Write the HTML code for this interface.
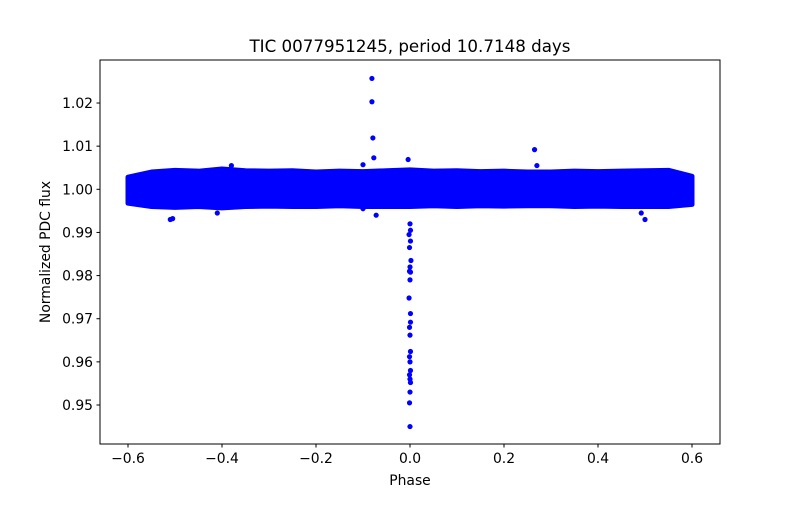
<!DOCTYPE html>
<html><head><meta charset="utf-8"><style>
body{margin:0;background:#fff}
svg text{font-family:"DejaVu Sans","Liberation Sans",sans-serif;fill:#000}
</style></head><body>
<svg id="chart" width="800" height="500" xmlns="http://www.w3.org/2000/svg">
<rect width="800" height="500" fill="#fff"/>
<text x="410" y="52" font-size="16.7" text-anchor="middle">TIC 0077951245, period 10.7148 days</text>
<g id="band"></g>
<g id="pts"></g>
<g id="axes"></g>
<rect x="100" y="60" width="620" height="384" fill="none" stroke="#000" stroke-width="1"/>
<text x="410" y="485" font-size="13.9" text-anchor="middle">Phase</text>
<text transform="translate(50,252) rotate(-90)" font-size="13.9" text-anchor="middle">Normalized PDC flux</text>
</svg>
<script>
const xTicks=[-0.6,-0.4,-0.2,0.0,0.2,0.4,0.6];
const xTickLabels=["\u22120.6","\u22120.4","\u22120.2","0.0","0.2","0.4","0.6"];
const yTicks=[0.95,0.96,0.97,0.98,0.99,1.00,1.01,1.02];
const yTickLabels=["0.95","0.96","0.97","0.98","0.99","1.00","1.01","1.02"];
const bandPhase=[-0.6,-0.55,-0.5,-0.45,-0.4,-0.35,-0.3,-0.25,-0.2,-0.15,-0.1,-0.05,0,0.05,0.1,0.15,0.2,0.25,0.3,0.35,0.4,0.45,0.5,0.55,0.6];
const bandUpper=[1.0028,1.0040,1.0044,1.0042,1.0047,1.0043,1.0042,1.0043,1.0040,1.0042,1.0041,1.0043,1.0045,1.0042,1.0043,1.0041,1.0042,1.0040,1.0040,1.0042,1.0041,1.0042,1.0043,1.0044,1.0030];
const bandLower=[0.9968,0.9960,0.9958,0.9960,0.9957,0.9960,0.9961,0.9960,0.9960,0.9962,0.9960,0.9960,0.9960,0.9962,0.9960,0.9962,0.9961,0.9962,0.9962,0.9960,0.9961,0.9960,0.9960,0.9960,0.9965];
const ptPhase=[0,0.001,-0.002,0.001,-0.001,0.002,0,-0.001,0.001,0,-0.002,0.001,0.001,-0.001,0,0.001,-0.001,0,0.001,-0.001,0,0.001,0,-0.001,0,-0.081,-0.081,-0.079,-0.077,-0.072,0.265,0.27,-0.505,-0.51,0.5,0.492,-0.41,-0.1,-0.004,-0.38,-0.1];
const ptFlux=[0.992,0.9905,0.9895,0.988,0.9865,0.9835,0.982,0.981,0.9808,0.979,0.9748,0.9712,0.9692,0.968,0.9662,0.9624,0.9612,0.9600,0.9580,0.9570,0.9560,0.9552,0.9530,0.9505,0.9450,1.0257,1.0203,1.0119,1.0073,0.9940,1.0092,1.0055,0.9932,0.9930,0.9930,0.9945,0.9945,0.9955,1.0069,1.0055,1.0057];
const X=v=>410+v*470;
const Y=v=>189.3-(v-1.0)*4314;
const NS="http://www.w3.org/2000/svg";
function mk(t,a,p){const e=document.createElementNS(NS,t);for(const k in a)e.setAttribute(k,a[k]);p.appendChild(e);return e;}
const band=document.getElementById('band');
let d="";
bandPhase.forEach((p,i)=>{d+=(i?"L":"M")+X(p)+","+Y(bandUpper[i]);});
for(let i=bandPhase.length-1;i>=0;i--)d+="L"+X(bandPhase[i])+","+Y(bandLower[i]);
d+="Z";
const poly=mk('path',{d:d,fill:'#0000ff',stroke:'#0000ff','stroke-width':5,'stroke-linejoin':'round'},band);


const pts=document.getElementById('pts');
ptPhase.forEach((p,i)=>{
 const c=mk('circle',{cx:X(p),cy:Y(ptFlux[i]),r:2.6,fill:'#0000ff'},pts);
 
 
});
const ax=document.getElementById('axes');
xTicks.forEach((v,i)=>{
 const l=mk('line',{x1:X(v),x2:X(v),y1:444,y2:447.5,stroke:'#000'},ax);
 
 
 const t=mk('text',{x:X(v),y:463,'font-size':13.9,'text-anchor':'middle'},ax);
 t.textContent=xTickLabels[i];
 
 
});
yTicks.forEach((v,i)=>{
 const l=mk('line',{x1:96.5,x2:100,y1:Y(v),y2:Y(v),stroke:'#000'},ax);
 
 
 const t=mk('text',{x:93,y:Y(v)+5,'font-size':13.9,'text-anchor':'end'},ax);
 t.textContent=yTickLabels[i];
 
 
});
</script>
</body></html>
